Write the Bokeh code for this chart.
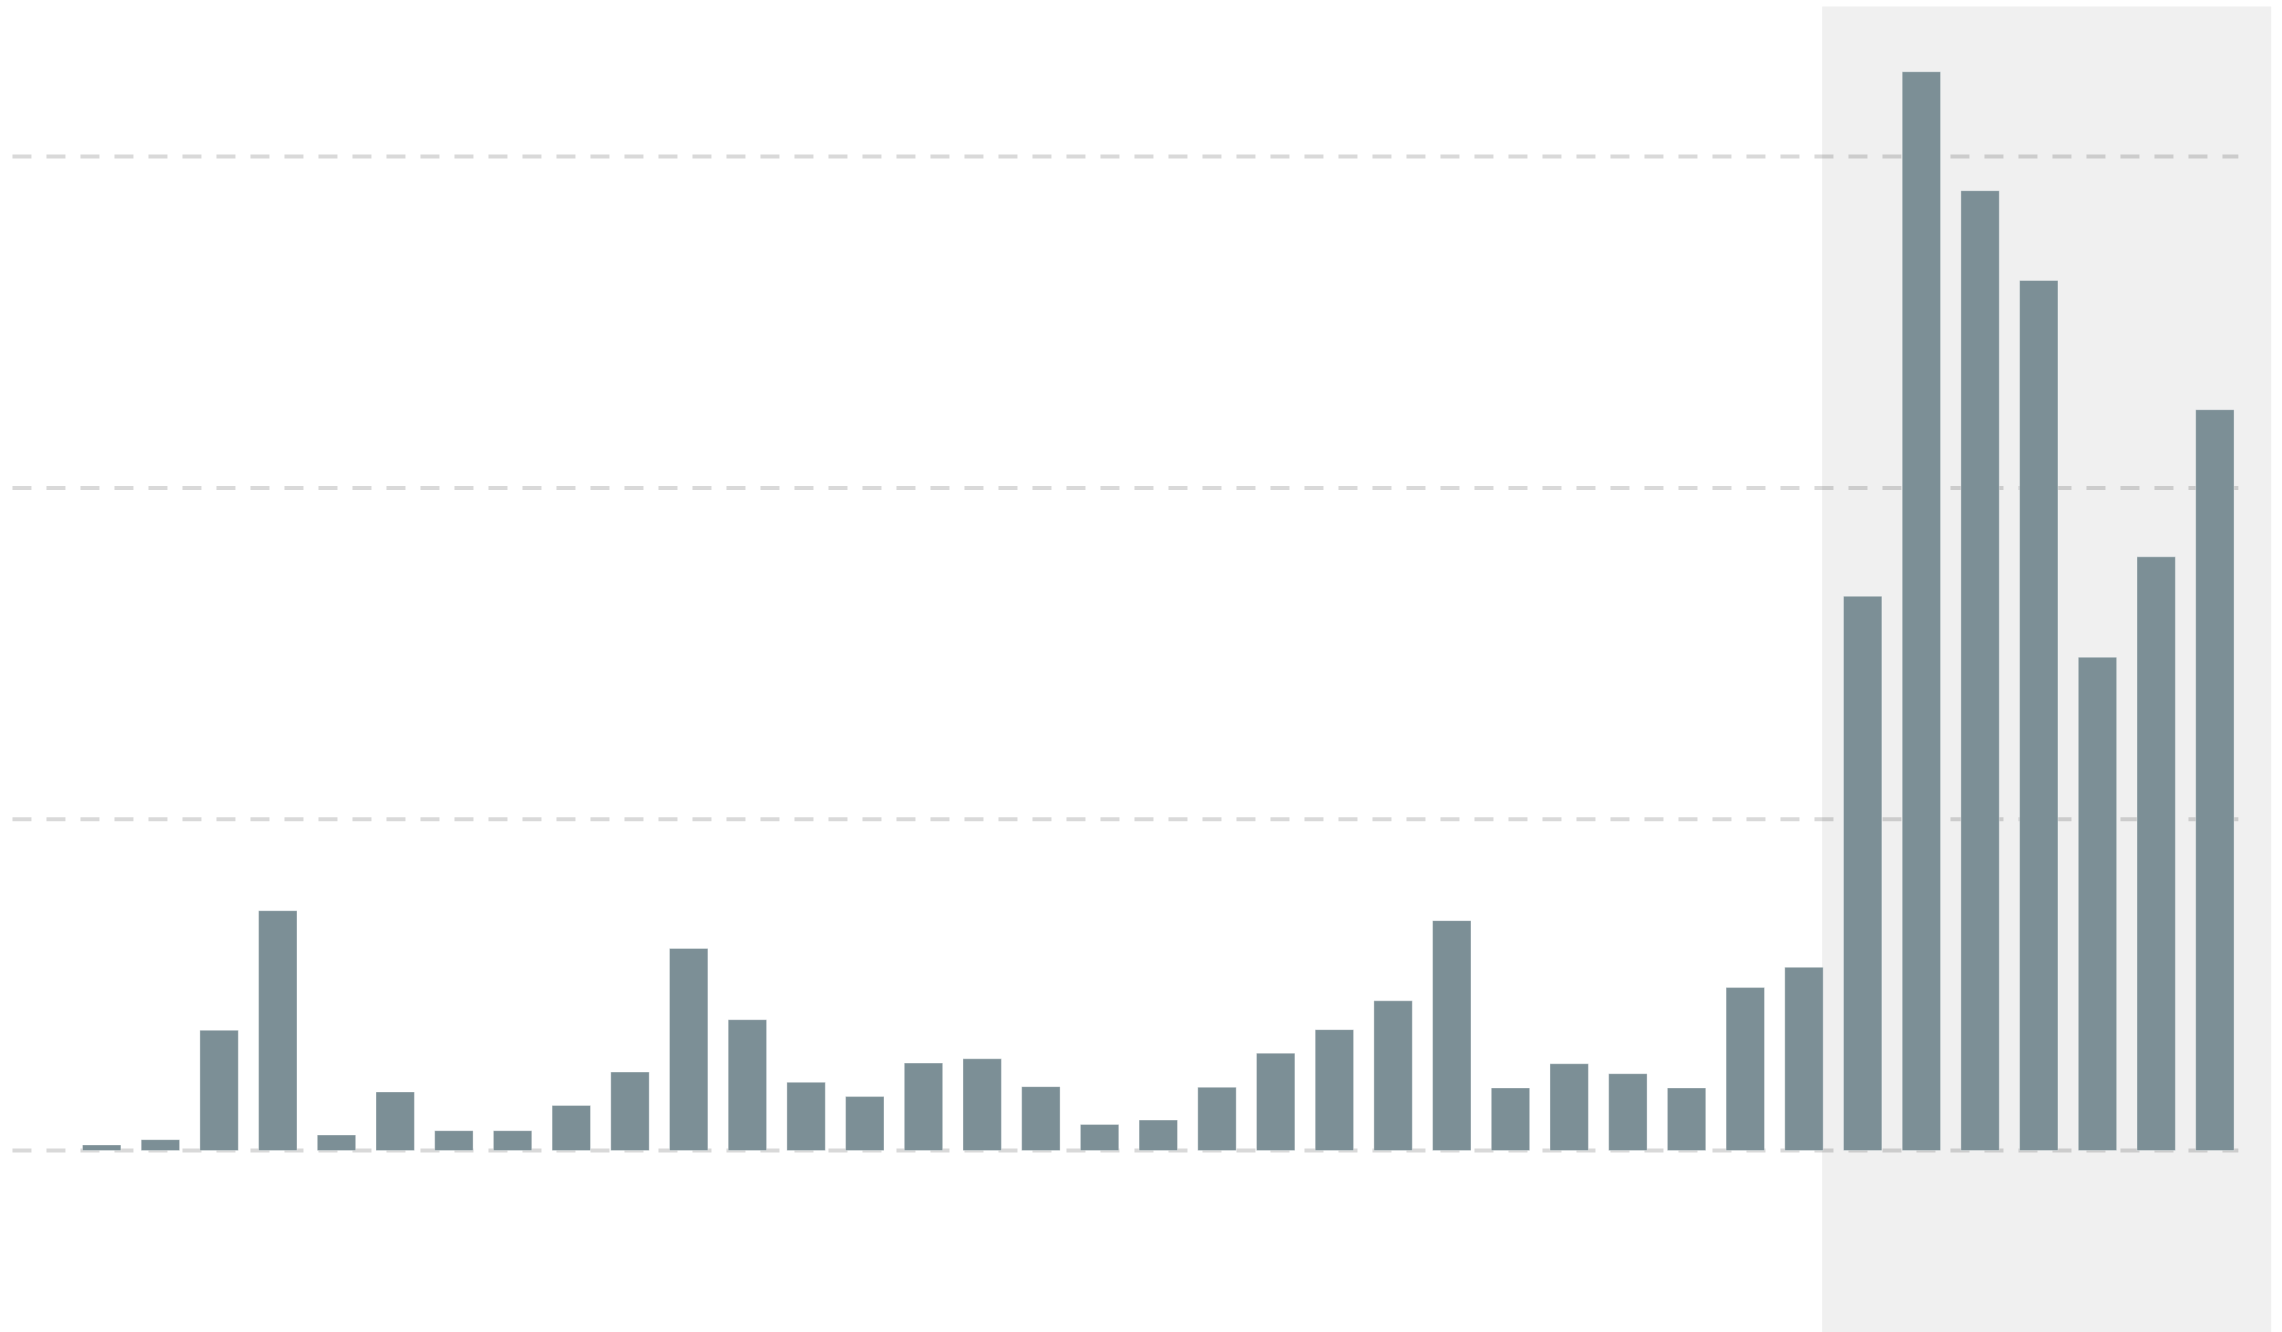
from bokeh.plotting import figure
from bokeh.models import Range1d
from bokeh.embed import file_html
from bokeh.resources import INLINE

# Data (no axis labels are shown)
positions = list(range(37))
values = [0.17, 0.33, 3.63, 7.24, 0.47, 1.77, 0.60, 0.60, 1.36, 2.37,
          6.10, 3.95, 2.06, 1.63, 2.64, 2.77, 1.93, 0.79, 0.92, 1.91,
          2.94, 3.65, 4.52, 6.94, 1.89, 2.62, 2.32, 1.89, 4.92, 5.53,
          16.73, 32.56, 28.97, 26.26, 14.89, 17.92, 22.36]
grid_values = [0, 10, 20, 30]
highlight_start = 29.31
highlight_end = 36.96

p = figure(width=2282, height=1332, output_backend="svg", toolbar_location=None,
           x_range=Range1d(-1.724, 37.152), y_range=Range1d(-5.49, 34.71),
           min_border=0, min_border_left=0, min_border_right=0,
           min_border_top=0, min_border_bottom=0)
p.axis.visible = False
p.grid.visible = False
p.outline_line_color = None
p.background_fill_color = "white"
p.border_fill_color = "white"

# highlighted period band
p.quad(left=[highlight_start], right=[highlight_end], bottom=[-20], top=[34.53],
       fill_color="#f0f0f0", line_color=None)

# dashed gridlines
p.segment(x0=[-1.52] * len(grid_values), x1=[36.40] * len(grid_values),
          y0=grid_values, y1=grid_values,
          line_color="black", line_alpha=0.15, line_width=4, line_dash="19 15")

# bars
p.vbar(x=positions, top=values, bottom=0, width=0.654,
       fill_color="#7c8f96", line_color="white", line_alpha=0.35, line_width=1)

open("out.html", "w").write(file_html(p, INLINE))
